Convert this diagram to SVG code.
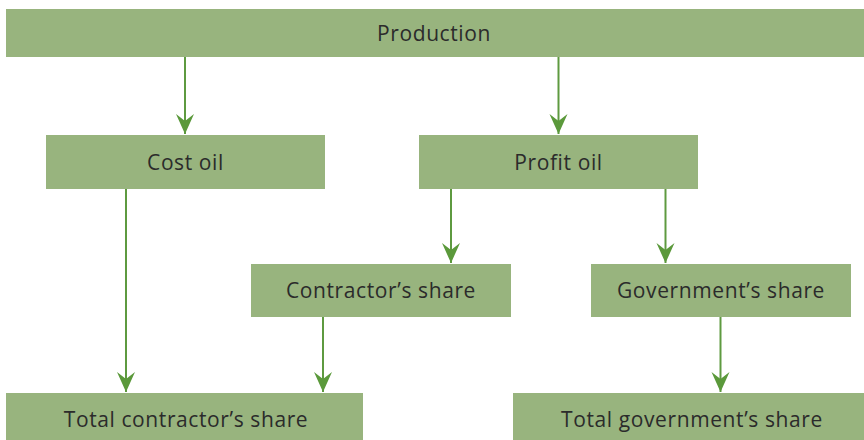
<svg xmlns="http://www.w3.org/2000/svg" width="864" height="440" viewBox="0 0 864 440">
<defs>
<style>
.box{fill:#98B47E;}
.lbl{font-family:"Open Sans","Liberation Sans",sans-serif;font-size:21px;fill:#2b2b2b;text-anchor:middle;letter-spacing:0.6px;}
.conn{stroke:#5E9A40;stroke-width:2;fill:none;}
</style>
<marker id="ah" markerUnits="userSpaceOnUse" viewBox="-21 -10 22 20" markerWidth="22" markerHeight="20" refX="0" refY="0" orient="auto">
<path d="M0,0 L-20,-9 L-13,0 L-20,9 Z" fill="#5B993B"/>
</marker>
</defs>
<rect width="864" height="440" fill="#ffffff"/>
<g id="production"><rect class="box" x="6" y="9" width="858" height="48"/><text class="lbl" x="434" y="41">Production</text></g>
<g id="cost-oil"><rect class="box" x="46" y="135" width="279" height="54"/><text class="lbl" x="185.5" y="170">Cost oil</text></g>
<g id="profit-oil"><rect class="box" x="419" y="135" width="279" height="54"/><text class="lbl" x="558.5" y="170">Profit oil</text></g>
<g id="contractors-share"><rect class="box" x="251" y="264" width="260" height="53"/><text class="lbl" x="381" y="298">Contractor’s share</text></g>
<g id="governments-share"><rect class="box" x="591" y="264" width="260" height="53"/><text class="lbl" x="721" y="298">Government’s share</text></g>
<g id="total-contractors-share"><rect class="box" x="6" y="393" width="357" height="47"/><text class="lbl" x="186" y="427">Total contractor’s share</text></g>
<g id="total-governments-share"><rect class="box" x="513" y="393" width="351" height="47"/><text class="lbl" x="692" y="427">Total government’s share</text></g>
<g id="connectors">
<line class="conn" x1="185" y1="57" x2="185" y2="134" marker-end="url(#ah)"/>
<line class="conn" x1="558.5" y1="57" x2="558.5" y2="134" marker-end="url(#ah)"/>
<line class="conn" x1="126" y1="189" x2="126" y2="392" marker-end="url(#ah)"/>
<line class="conn" x1="451" y1="189" x2="451" y2="263" marker-end="url(#ah)"/>
<line class="conn" x1="665.5" y1="189" x2="665.5" y2="263" marker-end="url(#ah)"/>
<line class="conn" x1="323" y1="317" x2="323" y2="392" marker-end="url(#ah)"/>
<line class="conn" x1="720.5" y1="317" x2="720.5" y2="392" marker-end="url(#ah)"/>
</g>
</svg>
